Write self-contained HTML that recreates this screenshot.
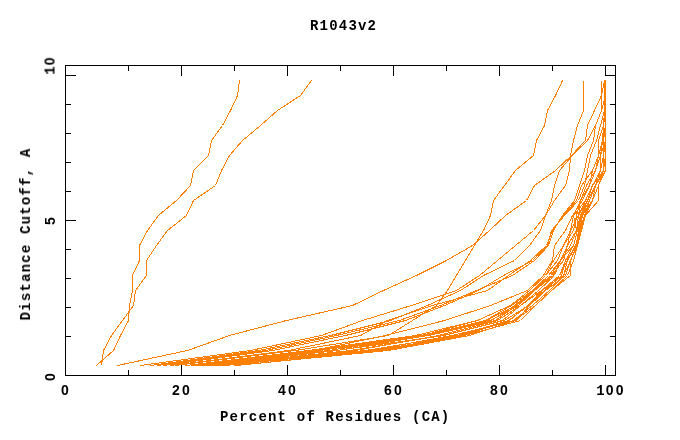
<!DOCTYPE html>
<html><head><meta charset="utf-8"><title>R1043v2</title>
<style>
html,body{margin:0;padding:0;background:#fff;}
body{width:680px;height:440px;overflow:hidden;position:relative;font-family:"Liberation Mono",monospace;font-weight:bold;color:#000;}
svg{position:absolute;left:0;top:0;}
.t{position:absolute;white-space:pre;will-change:transform;font-size:14px;letter-spacing:1.2px;line-height:14px;}
.n,.r{font-family:"Liberation Sans",sans-serif;font-size:14px;letter-spacing:2.2px;margin-right:-2.2px;}
.n{transform:translateX(-50%);}
.r{transform:translate(-50%,-50%) rotate(-90deg);}
.t i{font-style:normal;font-family:"Liberation Mono",monospace;letter-spacing:1.1px;}
</style></head><body>
<svg width="680" height="440" viewBox="0 0 680 440" shape-rendering="crispEdges">
<g fill="none" stroke="#ff7f00" stroke-width="1">
<polyline points="96.5,365.5 113.5,350.5 120.5,335.5 128.5,320.5 129.5,305.5 132.5,290.5 132.5,275.5 139.5,260.5 139.5,245.5 147.5,230.5 158.5,215.5 176.5,200.5 190.5,185.5 193.5,170.5 208.5,155.5 211.5,140.5 222.5,125.5 230.5,110.5 237.5,95.5 239.5,80.5"/>
<polyline points="101.5,365.5 103.5,350.5 111.5,335.5 122.5,320.5 133.5,305.5 135.5,290.5 146.5,275.5 146.5,260.5 156.5,245.5 167.5,230.5 186.5,215.5 193.5,200.5 215.5,185.5 221.5,170.5 229.5,155.5 242.5,140.5 260.5,125.5 277.5,110.5 300.5,95.5 311.5,80.5"/>
<polyline points="117.5,365.5 187.5,350.5 229.5,335.5 286.5,320.5 352.5,305.5 383.5,290.5 416.5,275.5 446.5,260.5 472.5,245.5 489.5,230.5 505.5,215.5 526.5,200.5 534.5,185.5 555.5,170.5 571.5,155.5 585.5,140.5 587.5,125.5 594.5,110.5 601.5,95.5 601.5,80.5"/>
<polyline points="175.5,365.5 295.5,350.5 388.5,335.5 412.5,320.5 436.5,305.5 447.5,290.5 456.5,275.5 465.5,260.5 474.5,245.5 483.5,230.5 490.5,215.5 493.5,200.5 504.5,185.5 515.5,170.5 533.5,155.5 536.5,140.5 544.5,125.5 547.5,110.5 555.5,95.5 562.5,80.5"/>
<polyline points="150.5,365.5 258.5,350.5 330.5,335.5 390.5,320.5 427.5,305.5 460.5,290.5 483.5,275.5 514.5,260.5 529.5,245.5 540.5,230.5 545.5,215.5 554.5,200.5 565.5,185.5 569.5,170.5 570.5,155.5 573.5,140.5 577.5,125.5 583.5,110.5 583.5,95.5 583.5,80.5"/>
<polyline points="140.5,365.5 250.5,350.5 321.5,335.5 362.5,320.5 411.5,305.5 456.5,290.5 479.5,275.5 497.5,260.5 515.5,245.5 533.5,230.5 545.5,215.5 551.5,200.5 554.5,185.5 559.5,170.5 572.5,155.5 587.5,140.5 595.5,125.5 601.5,110.5 601.5,95.5 604.5,80.5"/>
<polyline points="157.5,365.5 265.5,350.5 336.5,335.5 399.5,320.5 440.5,305.5 476.5,290.5 512.5,275.5 534.5,260.5 548.5,245.5 553.5,230.5 562.5,215.5 574.5,200.5 579.5,185.5 584.5,170.5 587.5,155.5 593.5,140.5 595.5,125.5 601.5,110.5 605.5,95.5 605.5,80.5"/>
<polyline points="163.5,365.5 272.5,350.5 345.5,335.5 405.5,320.5 444.5,305.5 478.5,290.5 503.5,275.5 532.5,260.5 547.5,245.5 551.5,230.5 564.5,215.5 578.5,200.5 584.5,185.5 587.5,170.5 590.5,155.5 596.5,140.5 600.5,125.5 604.5,110.5 605.5,95.5 605.5,80.5"/>
<polyline points="170.5,365.5 288.5,350.5 360.5,335.5 387.5,320.5 432.5,305.5 487.5,290.5 508.5,275.5 530.5,260.5 546.5,245.5 552.5,230.5 563.5,215.5 576.5,200.5 581.5,185.5 592.5,170.5 598.5,155.5 598.5,140.5 603.5,125.5 605.5,110.5 605.5,95.5 605.5,80.5"/>
<polyline points="185.5,365.5 313.5,350.5 385.5,335.5 444.5,320.5 490.5,305.5 527.5,290.5 543.5,275.5 552.5,260.5 554.5,245.5 565.5,230.5 572.5,215.5 582.5,200.5 589.5,185.5 595.5,170.5 600.5,155.5 602.5,140.5 603.5,125.5 605.5,110.5 605.5,95.5 605.5,80.5"/>
<polyline points="185.5,365.5 308.5,350.5 415.5,335.5 477.5,320.5 510.5,305.5 529.5,290.5 545.5,275.5 553.5,260.5 563.5,245.5 570.5,230.5 573.5,215.5 580.5,200.5 586.5,185.5 595.5,170.5 598.5,155.5 602.5,140.5 603.5,125.5 604.5,110.5 604.5,95.5 604.5,80.5"/>
<polyline points="196.5,365.5 308.5,350.5 422.5,335.5 477.5,320.5 510.5,305.5 529.5,290.5 545.5,275.5 557.5,260.5 563.5,245.5 573.5,230.5 576.5,215.5 580.5,200.5 589.5,185.5 592.5,170.5 598.5,155.5 602.5,140.5 605.5,125.5 604.5,110.5 604.5,95.5 605.5,80.5"/>
<polyline points="191.5,365.5 313.5,350.5 425.5,335.5 485.5,320.5 511.5,305.5 532.5,290.5 548.5,275.5 560.5,260.5 567.5,245.5 570.5,230.5 578.5,215.5 580.5,200.5 589.5,185.5 595.5,170.5 598.5,155.5 603.5,140.5 603.5,125.5 605.5,110.5 605.5,95.5 605.5,80.5"/>
<polyline points="202.5,365.5 319.5,350.5 427.5,335.5 486.5,320.5 515.5,305.5 532.5,290.5 553.5,275.5 560.5,260.5 567.5,245.5 576.5,230.5 573.5,215.5 585.5,200.5 592.5,185.5 600.5,170.5 603.5,155.5 603.5,140.5 605.5,125.5 605.5,110.5 605.5,95.5 605.5,80.5"/>
<polyline points="194.5,365.5 319.5,350.5 420.5,335.5 491.5,320.5 514.5,305.5 533.5,290.5 551.5,275.5 563.5,260.5 567.5,245.5 576.5,230.5 578.5,215.5 587.5,200.5 595.5,185.5 600.5,170.5 600.5,155.5 605.5,140.5 605.5,125.5 605.5,110.5 605.5,95.5 605.5,80.5"/>
<polyline points="198.5,365.5 328.5,350.5 427.5,335.5 490.5,320.5 518.5,305.5 534.5,290.5 550.5,275.5 560.5,260.5 570.5,245.5 576.5,230.5 580.5,215.5 587.5,200.5 592.5,185.5 600.5,170.5 603.5,155.5 603.5,140.5 605.5,125.5 605.5,110.5 605.5,95.5 605.5,80.5"/>
<polyline points="205.5,365.5 337.5,350.5 428.5,335.5 495.5,320.5 516.5,305.5 534.5,290.5 553.5,275.5 560.5,260.5 570.5,245.5 576.5,230.5 578.5,215.5 585.5,200.5 592.5,185.5 600.5,170.5 603.5,155.5 605.5,140.5 605.5,125.5 605.5,110.5 605.5,95.5 605.5,80.5"/>
<polyline points="208.5,365.5 336.5,350.5 444.5,335.5 502.5,320.5 520.5,305.5 538.5,290.5 554.5,275.5 560.5,260.5 573.5,245.5 577.5,230.5 581.5,215.5 587.5,200.5 592.5,185.5 603.5,170.5 603.5,155.5 605.5,140.5 605.5,125.5 605.5,110.5 605.5,95.5 605.5,80.5"/>
<polyline points="220.5,365.5 355.5,350.5 438.5,335.5 497.5,320.5 520.5,305.5 541.5,290.5 559.5,275.5 565.5,260.5 573.5,245.5 577.5,230.5 581.5,215.5 592.5,200.5 595.5,185.5 603.5,170.5 605.5,155.5 605.5,140.5 605.5,125.5 605.5,110.5 605.5,95.5 605.5,80.5"/>
<polyline points="210.5,365.5 350.5,350.5 442.5,335.5 504.5,320.5 528.5,305.5 541.5,290.5 563.5,275.5 567.5,260.5 576.5,245.5 578.5,230.5 581.5,215.5 589.5,200.5 595.5,185.5 603.5,170.5 605.5,155.5 605.5,140.5 605.5,125.5 605.5,110.5 605.5,95.5 605.5,80.5"/>
<polyline points="215.5,365.5 365.5,350.5 457.5,335.5 508.5,320.5 528.5,305.5 542.5,290.5 559.5,275.5 567.5,260.5 575.5,245.5 579.5,230.5 584.5,215.5 589.5,200.5 595.5,185.5 605.5,170.5 605.5,155.5 605.5,140.5 605.5,125.5 605.5,110.5 605.5,95.5 605.5,80.5"/>
<polyline points="220.5,365.5 374.5,350.5 462.5,335.5 509.5,320.5 527.5,305.5 544.5,290.5 561.5,275.5 565.5,260.5 577.5,245.5 579.5,230.5 582.5,215.5 592.5,200.5 598.5,185.5 605.5,170.5 605.5,155.5 605.5,140.5 605.5,125.5 605.5,110.5 605.5,95.5 605.5,80.5"/>
<polyline points="225.5,365.5 370.5,350.5 451.5,335.5 516.5,320.5 529.5,305.5 545.5,290.5 565.5,275.5 570.5,260.5 576.5,245.5 580.5,230.5 584.5,215.5 592.5,200.5 598.5,185.5 603.5,170.5 605.5,155.5 605.5,140.5 605.5,125.5 605.5,110.5 605.5,95.5 605.5,80.5"/>
<polyline points="236.5,365.5 379.5,350.5 458.5,335.5 513.5,320.5 532.5,305.5 549.5,290.5 563.5,275.5 570.5,260.5 577.5,245.5 580.5,230.5 585.5,215.5 592.5,200.5 598.5,185.5 605.5,170.5 605.5,155.5 605.5,140.5 605.5,125.5 605.5,110.5 605.5,95.5 605.5,80.5"/>
<polyline points="236.5,365.5 383.5,350.5 464.5,335.5 520.5,320.5 535.5,305.5 551.5,290.5 570.5,275.5 570.5,260.5 577.5,245.5 581.5,230.5 585.5,215.5 592.5,200.5 598.5,185.5 605.5,170.5 605.5,155.5 605.5,140.5 605.5,125.5 605.5,110.5 605.5,95.5 605.5,80.5"/>
<polyline points="234.5,365.5 388.5,350.5 469.5,335.5 514.5,320.5 535.5,305.5 551.5,290.5 567.5,275.5 573.5,260.5 577.5,245.5 581.5,230.5 585.5,215.5 598.5,200.5 598.5,185.5 605.5,170.5 605.5,155.5 605.5,140.5 605.5,125.5 605.5,110.5 605.5,95.5 605.5,80.5"/>
</g>
<g fill="none" stroke="#000" stroke-width="1">
<rect x="65.5" y="65.5" width="550" height="310"/>
<path d="M128.5,65V71M128.5,376V370"/>
<path d="M181.5,65V76M181.5,376V365"/>
<path d="M234.5,65V71M234.5,376V370"/>
<path d="M287.5,65V76M287.5,376V365"/>
<path d="M340.5,65V71M340.5,376V370"/>
<path d="M393.5,65V76M393.5,376V365"/>
<path d="M446.5,65V71M446.5,376V370"/>
<path d="M499.5,65V76M499.5,376V365"/>
<path d="M552.5,65V71M552.5,376V370"/>
<path d="M605.5,65V76M605.5,376V365"/>
<path d="M65,75.5H76M616,75.5H605"/>
<path d="M65,104.5H71M616,104.5H610"/>
<path d="M65,133.5H71M616,133.5H610"/>
<path d="M65,162.5H71M616,162.5H610"/>
<path d="M65,191.5H71M616,191.5H610"/>
<path d="M65,220.5H76M616,220.5H605"/>
<path d="M65,249.5H71M616,249.5H610"/>
<path d="M65,278.5H71M616,278.5H610"/>
<path d="M65,307.5H71M616,307.5H610"/>
<path d="M65,336.5H71M616,336.5H610"/>
</g>
</svg>
<div class="t" id="title" style="left:309.5px;top:19px;">R1043v2</div>
<div class="t" id="xl" style="left:219.5px;top:409.5px;">Percent of Residues (CA)</div>
<div class="t" id="yl" style="left:26px;top:234px;transform:translate(-50%,-50%) rotate(-90deg);">Distance Cutoff, A</div>
<div class="t n" style="left:66px;top:383px;">0</div>
<div class="t n" style="left:182px;top:383px;">20</div>
<div class="t n" style="left:288px;top:383px;">40</div>
<div class="t n" style="left:394px;top:383px;">60</div>
<div class="t n" style="left:500px;top:383px;">80</div>
<div class="t n" style="left:611px;top:383px;"><i>1</i>00</div>
<div class="t r" style="left:50px;top:376px;">0</div>
<div class="t r" style="left:50px;top:220px;">5</div>
<div class="t r" style="left:50px;top:65px;"><i>1</i>0</div>
</body></html>
